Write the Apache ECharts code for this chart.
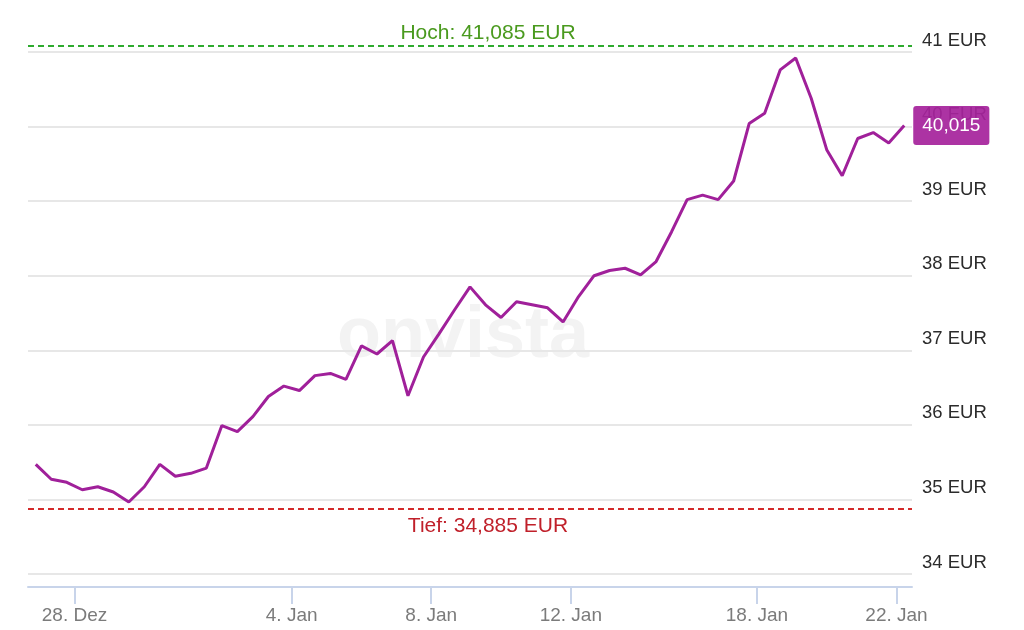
<!DOCTYPE html>
<html><head><meta charset="utf-8">
<script src="https://cdn.jsdelivr.net/npm/echarts@6/dist/echarts.min.js"></script>
<style>html,body{margin:0;padding:0;background:#fff}#c{width:1024px;height:630px}</style>
</head><body><div id="c"></div>
<script>
const prices = [
  35.47, 35.27, 35.23, 35.13, 35.17, 35.10, 34.965, 35.17, 35.47, 35.31,
  35.35, 35.42, 35.99, 35.91, 36.11, 36.38, 36.52, 36.46, 36.66, 36.69,
  36.61, 37.06, 36.95, 37.13, 36.39, 36.91, 37.22, 37.54, 37.85, 37.61,
  37.44, 37.65, 37.61, 37.57, 37.38, 37.72, 38.00, 38.07, 38.10, 38.01,
  38.19, 38.59, 39.02, 39.08, 39.02, 39.27, 40.04, 40.18, 40.76, 40.92,
  40.38, 39.69, 39.34, 39.84, 39.92, 39.78, 40.015
];
const tickLabels = ['28. Dez', '4. Jan', '8. Jan', '12. Jan', '18. Jan', '22. Jan'];
const tickSlots = [2.5, 16.5, 25.5, 34.5, 46.5, 55.5];
const yMin = 34, yMax = 41.5, yStep = 1;
const high = 41.085, low = 34.885;
const currency = 'EUR';

const de = v => v.toFixed(3).replace('.', ',');
const FONT = '"Liberation Sans", Arial, sans-serif';

const chart = echarts.init(document.getElementById('c'), null, {renderer: 'canvas'});
chart.setOption({
  animation: false,
  backgroundColor: '#ffffff',
  grid: {left: 28, right: 112, top: 14.7, bottom: 56, containLabel: false},
  graphic: [{
    type: 'text', silent: true, z: 0,
    x: 463, y: 337,
    style: {
      text: 'onvista', textAlign: 'center', textVerticalAlign: 'middle',
      fontFamily: FONT, fontWeight: 'bold', fontSize: 72, fill: '#f3f3f3'
    }
  }],
  xAxis: {
    type: 'value', min: -0.5, max: prices.length - 0.5,
    offset: 13,
    splitLine: {show: false},
    axisLine: {show: true, lineStyle: {color: '#c8d4ea', width: 2}},
    axisTick: {show: true, customValues: tickSlots, length: 17, lineStyle: {color: '#c8d4ea', width: 2}},
    axisLabel: {
      customValues: tickSlots, margin: 19,
      fontFamily: FONT, fontSize: 19, color: '#7b7b7b',
      formatter: v => { const k = tickSlots.indexOf(v); return k >= 0 ? tickLabels[k] : ''; }
    }
  },
  yAxis: {
    type: 'value', position: 'right', min: yMin, max: yMax, interval: yStep,
    axisLine: {show: false}, axisTick: {show: false},
    splitLine: {show: true, showMaxLine: false, lineStyle: {color: '#e7e7e7', width: 2}},
    axisLabel: {
      margin: 10, fontFamily: FONT, fontSize: 18.5, color: '#2b2b2b',
      verticalAlign: 'bottom', padding: [0, 0, 2, 0], showMaxLabel: false,
      formatter: v => (Number.isInteger(v) ? v + ' ' + currency : '')
    }
  },
  series: [{
    type: 'line',
    data: prices.map((v, i) => [i, v]),
    symbol: 'none',
    z: 5,
    lineStyle: {color: '#a0209a', width: 3},
    endLabel: {
      show: true, distance: 9,
      formatter: p => de(p.value[1]),
      backgroundColor: 'rgba(166,36,156,0.93)', color: '#ffffff',
      fontFamily: FONT, fontSize: 19, padding: [10, 9, 10, 9], borderRadius: 3
    },
    markLine: {
      silent: true, symbol: 'none',
      data: [
        {yAxis: high, lineStyle: {color: '#2eaa2e', type: [6, 4], width: 2},
         label: {show: true, position: 'insideMiddleTop', formatter: 'Hoch: ' + de(high) + ' ' + currency,
                 color: '#4a9a1e', fontFamily: FONT, fontSize: 21, padding: [0, 0, 0, 36], distance: 2}},
        {yAxis: low, lineStyle: {color: '#d42a2a', type: [6, 4], width: 2},
         label: {show: true, position: 'insideMiddleBottom', formatter: 'Tief: ' + de(low) + ' ' + currency,
                 color: '#c0202a', fontFamily: FONT, fontSize: 21, padding: [0, 0, 0, 36], distance: 7}}
      ]
    }
  }]
});
</script>
</body></html>
